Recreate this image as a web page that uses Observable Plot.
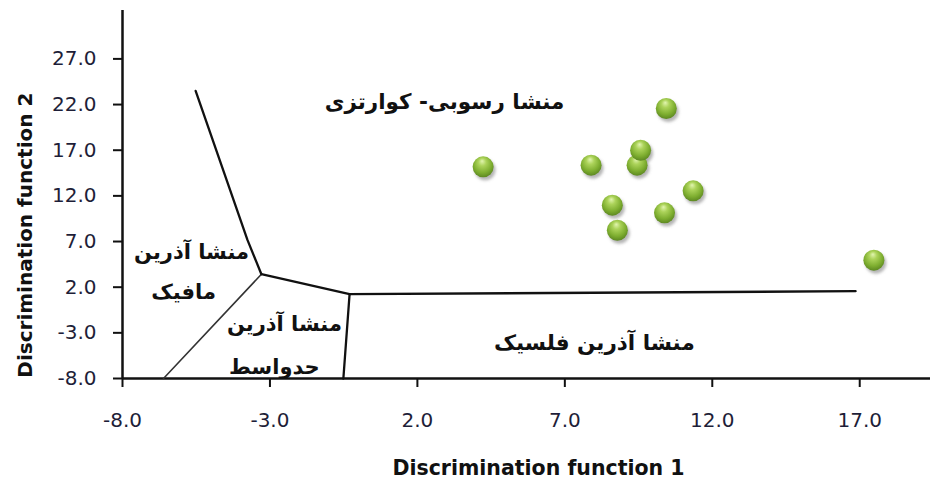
<!DOCTYPE html>
<html><head><meta charset="utf-8">
<script src="https://cdn.jsdelivr.net/npm/d3@7"></script>
<script src="https://cdn.jsdelivr.net/npm/@observablehq/plot@0.6"></script>
<style>body{margin:0;background:#fff}</style>
</head><body><div id="chart"></div>
<script>
// ---- data ----
const xTicks = [-8, -3, 2, 7, 12, 17];
const yTicks = [-8, -3, 2, 7, 12, 17, 22, 27];
const sampleX = [4.23, 7.89, 10.44, 9.45, 9.57, 11.35, 8.61, 8.78, 10.38, 17.48];
const sampleY = [15.18, 15.36, 21.57, 15.36, 17.0, 12.55, 10.98, 8.24, 10.14, 4.96];
// boundary polylines (discriminant-space coordinates)
const boundarySedMafic = [[-5.52, 23.5], [-3.76, 7.15], [-3.29, 3.42]];
const boundaryMaficInter = [[-3.29, 3.42], [-6.61, -8]];
const boundarySedInter = [[-3.29, 3.42], [-0.30, 1.23]];
const boundarySedFelsic = [[-0.30, 1.23], [16.86, 1.56]];
const boundaryInterFelsic = [[-0.30, 1.23], [-0.51, -8]];
const regionNames = ["منشا رسوبی- کوارتزی", "منشا آذرین", "مافیک", "منشا آذرین", "حدواسط", "منشا آذرین فلسیک"];
const regionX = [2.92, -5.66, -5.93, -2.51, -2.85, 8.0];
const regionY = [22.26, 5.83, 1.45, -2.05, -6.76, -4.13];
const xTitle = "Discrimination function 1";
const yTitle = "Discrimination function 2";

const samples = sampleX.map((x, i) => ({x, y: sampleY[i]}));
const regions = regionNames.map((t, i) => ({t, x: regionX[i], y: regionY[i], big: i === 0 || i === 5}));

const defsMark = () => {
  const g = document.createElementNS("http://www.w3.org/2000/svg", "g");
  g.innerHTML = `<defs>
    <radialGradient id="sphere" cx="48%" cy="40%" r="62%" fx="45%" fy="22%">
      <stop offset="0%" stop-color="#e2f5b0"/>
      <stop offset="30%" stop-color="#acd35a"/>
      <stop offset="70%" stop-color="#7eae30"/>
      <stop offset="100%" stop-color="#5a8520"/>
    </radialGradient>
    <filter id="blur" x="-50%" y="-50%" width="200%" height="200%"><feGaussianBlur stdDeviation="1.6"/></filter>
  </defs>`;
  return g;
};

const lineOpts = {x: d => d[0], y: d => d[1], stroke: "#111", strokeWidth: 2.3};
const fmt = d => d.toFixed(1);

const chart = Plot.plot({
  width: 930, height: 481,
  marginLeft: 122, marginRight: 0, marginTop: 10, marginBottom: 103,
  x: {domain: [-8, 19.4]},
  y: {domain: [-8, 32.3]},
  style: {fontFamily: "DejaVu Sans", fontSize: "20px", color: "#1e1e38", background: "#fff"},
  marks: [
    defsMark,
    Plot.axisX(xTicks, {tickSize: 9, tickPadding: 25, tickFormat: fmt, label: null, stroke: "#111", strokeWidth: 2, fill: "#1e1e38", fontSize: 20}),
    Plot.axisY(yTicks, {tickSize: 9, tickPadding: 17, tickFormat: fmt, label: null, stroke: "#111", strokeWidth: 2, fill: "#1e1e38", fontSize: 20}),
    Plot.ruleX([-8], {stroke: "#111", strokeWidth: 2.5}),
    Plot.ruleY([-8], {stroke: "#111", strokeWidth: 2.5}),
    Plot.line(boundarySedMafic, lineOpts),
    Plot.line(boundaryMaficInter, {...lineOpts, strokeWidth: 1.6, stroke: "#333"}),
    Plot.line(boundarySedInter, lineOpts),
    Plot.line(boundarySedFelsic, lineOpts),
    Plot.line(boundaryInterFelsic, lineOpts),
    Plot.text(regions, {x: "x", y: "y", text: "t", fontFamily: "DejaVu Sans", fontWeight: "bold", fontSize: d => d.big ? 21.5 : 21, fill: "#111"}),
    Plot.dot(samples, {x: "x", y: "y", r: 10.5, fill: "#777", fillOpacity: 0.55, dx: 2, dy: 3, stroke: "none"}),
    Plot.dot(samples, {x: "x", y: "y", r: 10.5, fill: "url(#sphere)", stroke: "none"}),
    Plot.text([xTitle], {frameAnchor: "bottom", dx: 12, dy: 96, fontFamily: "DejaVu Sans", fontWeight: "bold", fontSize: 20.5, fill: "#111"}),
    Plot.text([yTitle], {x: () => -11.3, y: () => 7.7, rotate: -90, fontFamily: "DejaVu Sans", fontWeight: "bold", fontSize: 20, fill: "#111"})
  ]
});
const dotGroups = chart.querySelectorAll('g[aria-label="dot"]');
if (dotGroups.length) dotGroups[0].setAttribute("filter", "url(#blur)");
document.getElementById("chart").appendChild(chart);
</script>
</body></html>
